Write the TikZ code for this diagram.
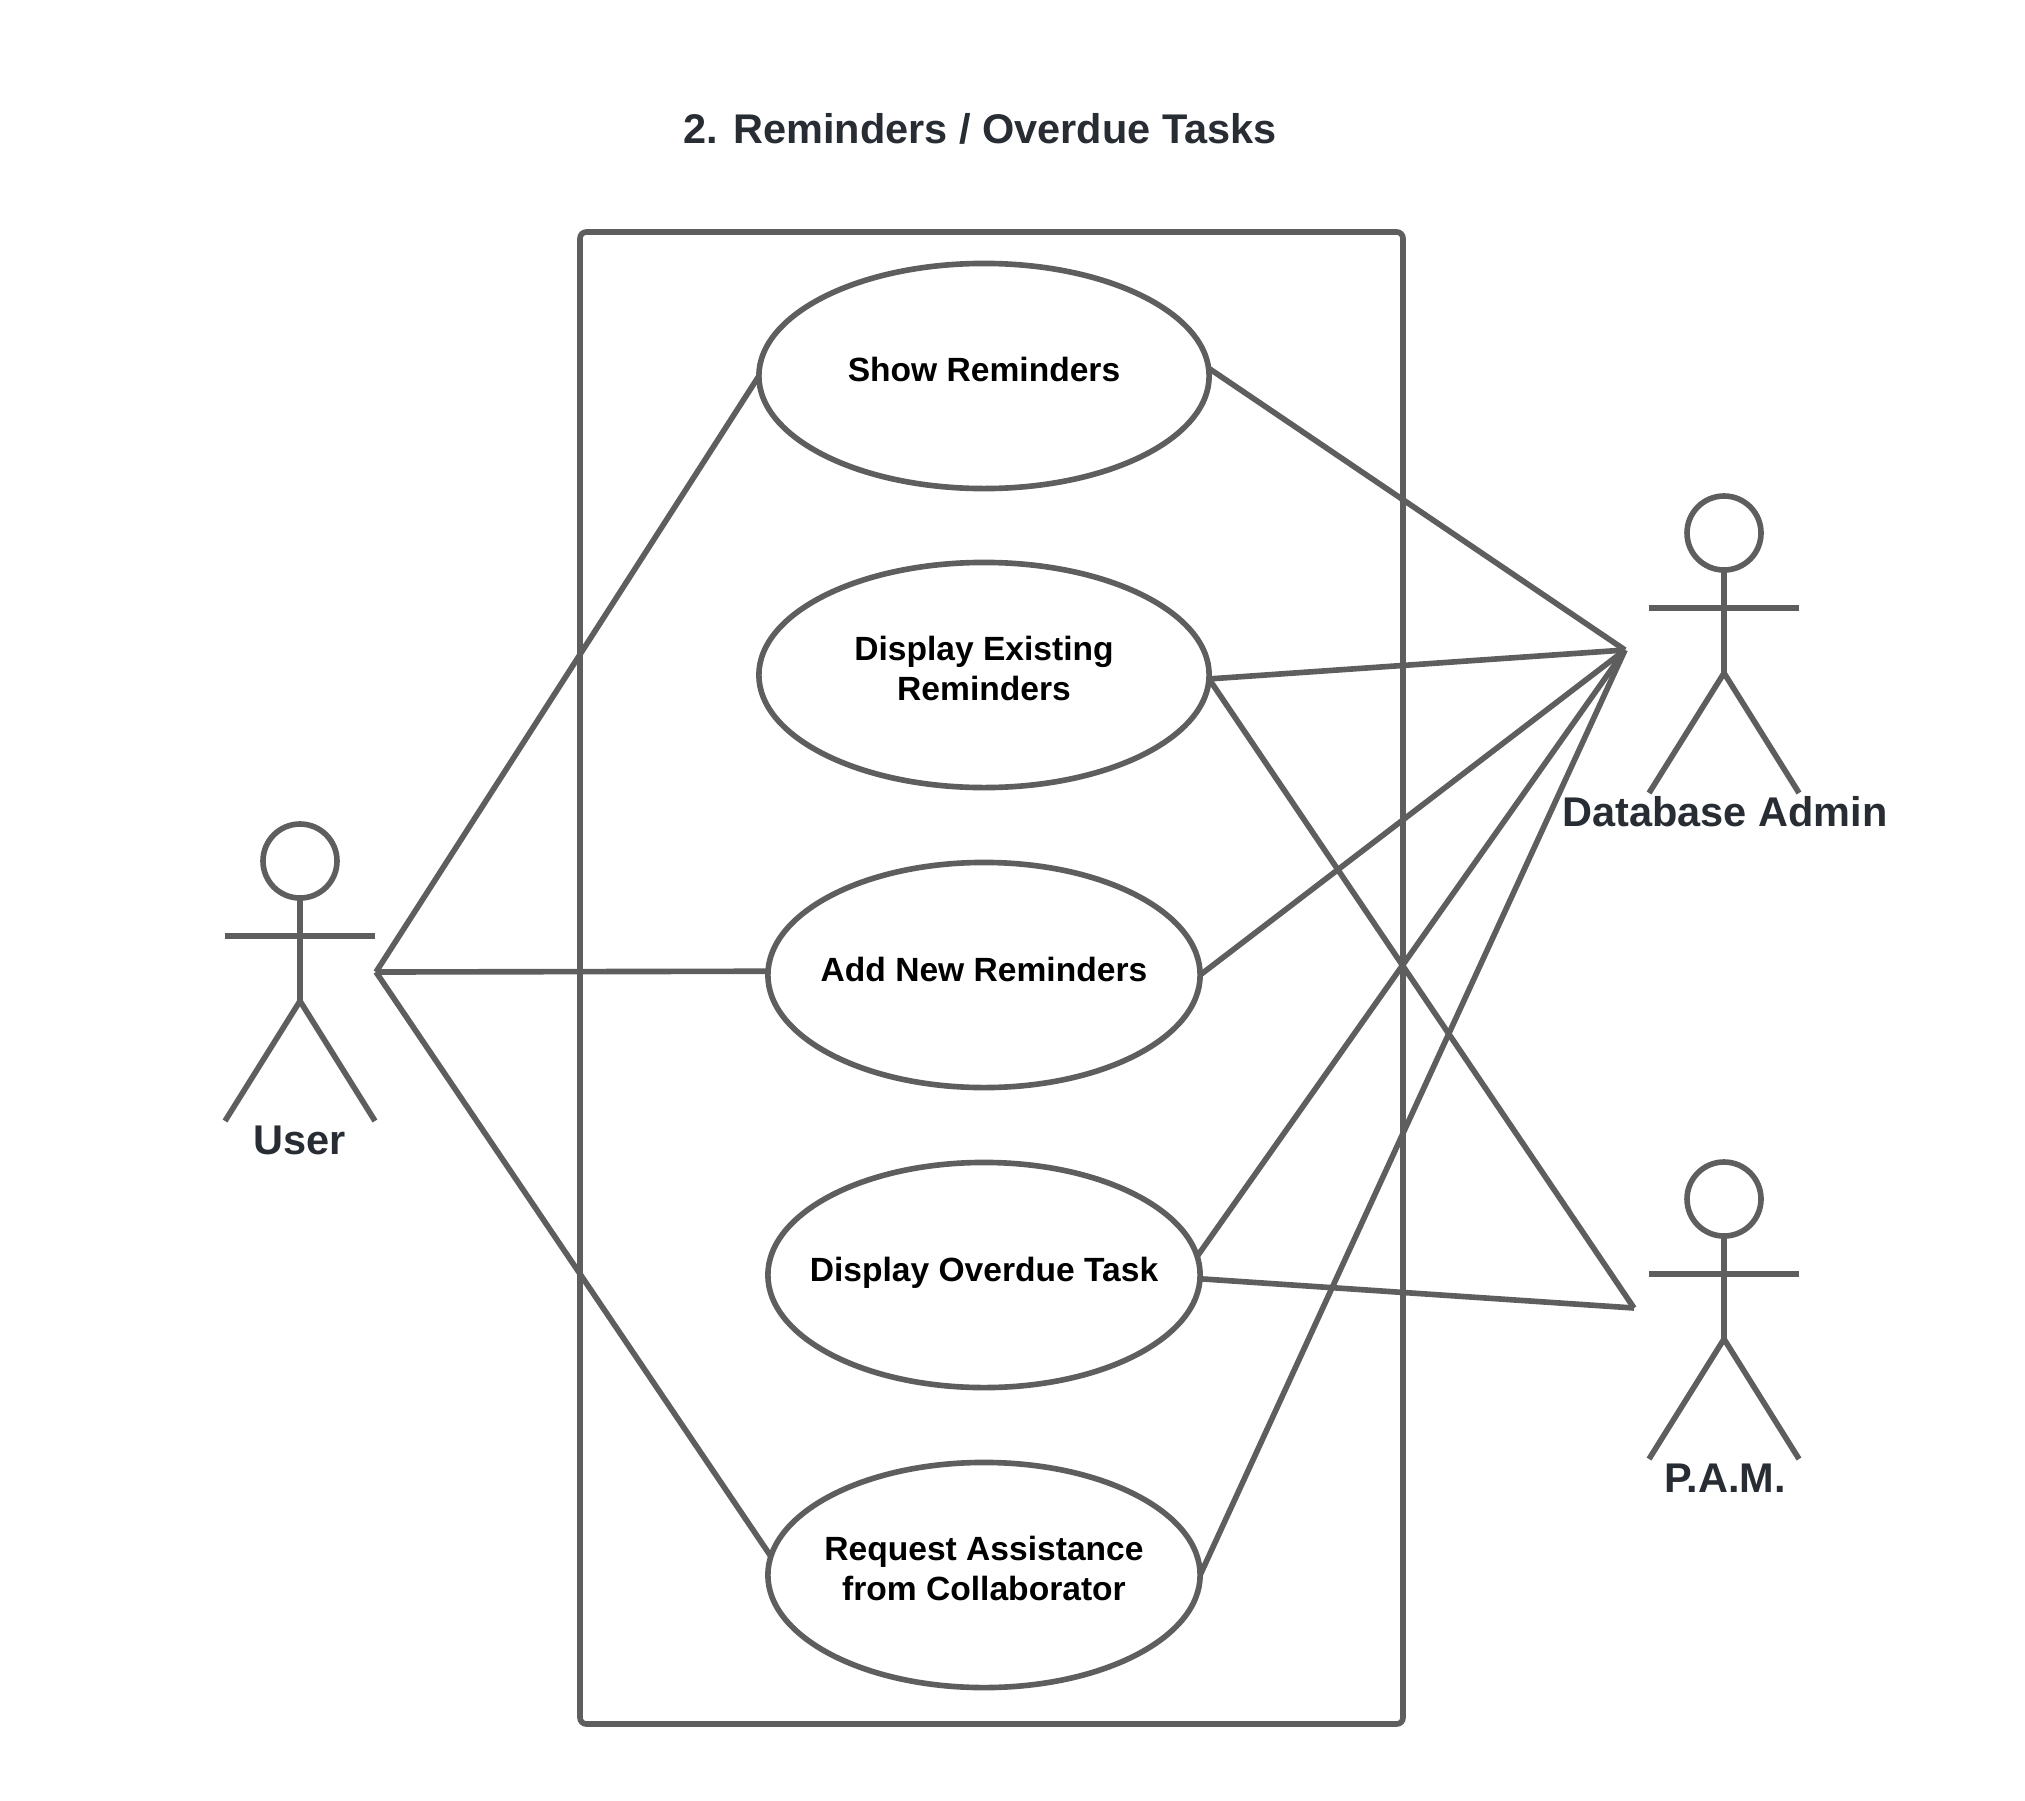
\documentclass[tikz,border=0pt]{standalone}
\usepackage{fontspec}
\setmainfont{Liberation Sans}
\usetikzlibrary{shapes.geometric}
\definecolor{linegray}{HTML}{5E5E5E}
\definecolor{labelink}{HTML}{282C33}
\tikzset{
  usecase/.style={ellipse,draw=linegray,line width=1.6pt,inner sep=0pt,outer sep=0pt,minimum height=2.25cm},
  casetext/.style={font=\fontsize{9.55}{11.35}\selectfont\bfseries,align=center,yshift=.065cm},
  actortext/.style={font=\fontsize{11.8}{14}\selectfont\bfseries,text=labelink},
  wire/.style={draw=linegray,line width=1.6pt},
  pics/stickman/.style={code={
    \draw[wire] (0,0) circle (37);
    \draw[wire] (0,37) -- (0,140);
    \draw[wire] (-75,75) -- (75,75);
    \draw[wire] (-75,260) -- (0,140) -- (75,260);
  }}
}
\begin{document}
\begin{tikzpicture}[x=.01cm,y=-.01cm]
  \useasboundingbox (0,0) rectangle (2025,1800);
  \node[actortext] (title) at (980,129) {2. Reminders / Overdue Tasks};
  \draw[wire,rounded corners=1.8pt] (580,232) rectangle (1403,1724);
  % use cases
  \node[usecase,minimum width=4.5cm,label={[casetext]center:Show Reminders}] (show) at (984,376) {};
  \node[usecase,minimum width=4.5cm,label={[casetext]center:{Display Existing\\Reminders}}] (existing) at (984,675) {};
  \node[usecase,minimum width=4.32cm,label={[casetext,yshift=-.01cm]center:Add New Reminders}] (addnew) at (984,975) {};
  \node[usecase,minimum width=4.32cm,label={[casetext,yshift=-.04cm]center:Display Overdue Task}] (overdue) at (984,1275) {};
  \node[usecase,minimum width=4.32cm,label={[casetext]center:{Request Assistance\\from Collaborator}}] (request) at (984,1575) {};
  % actors
  \pic at (300,861) {stickman};
  \pic at (1724,533) {stickman};
  \pic at (1724,1199) {stickman};
  \node[actortext] (user) at (300,1140) {User};
  \node[actortext] (admin) at (1725,812) {Database Admin};
  \node[actortext] (pam) at (1725,1478) {P.A.M.};
  \coordinate (userjoin) at (376,972);
  \coordinate (adminjoin) at (1625,650);
  \coordinate (pamjoin) at (1634,1308);
  % connectors
  \draw[wire] (userjoin) -- (show.180.6);
  \draw[wire] (userjoin) -- (addnew.179.3);
  \draw[wire] (userjoin) -- (request.175);
  \draw[wire] (show.2) -- (adminjoin);
  \draw[wire] (existing.359) -- (adminjoin);
  \draw[wire] (addnew.east) -- (adminjoin);
  \draw[wire] (overdue.5) -- (adminjoin);
  \draw[wire] (request.east) -- (adminjoin);
  \draw[wire] (existing.359) -- (pamjoin);
  \draw[wire] (overdue.359) -- (pamjoin);
\end{tikzpicture}
\end{document}
